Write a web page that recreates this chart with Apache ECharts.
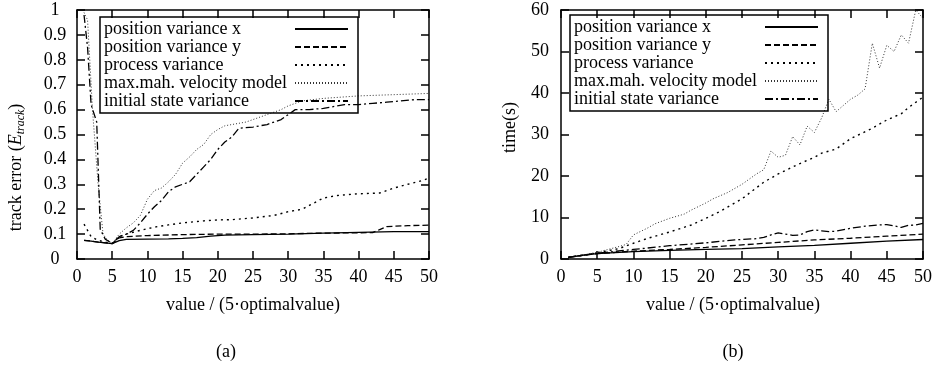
<!DOCTYPE html>
<html>
<head>
<meta charset="utf-8">
<script src="https://cdn.jsdelivr.net/npm/echarts@6/dist/echarts.min.js"></script>
<style>
  html, body { margin: 0; padding: 0; background: #fff; }
  #chart { width: 939px; height: 365px; }
</style>
</head>
<body>
<div id="chart"></div>
<script>
// Series names shared by both panels
const seriesNames = [
  'position variance x',
  'position variance y',
  'process variance',
  'max.mah. velocity model',
  'initial state variance'
];

// Panel (a): track error against the scaled parameter value
const errPosX = [[1,0.075],[2,0.072],[3,0.068],[4,0.065],[5,0.062],[6,0.074],[7,0.079],[10,0.08],[13,0.081],[15,0.083],[17,0.086],[19,0.092],[21,0.096],[25,0.098],[30,0.1],[35,0.104],[40,0.107],[45,0.11],[50,0.11]];
const errPosY = [[1,0.075],[2,0.072],[3,0.068],[4,0.065],[5,0.062],[6,0.085],[7,0.09],[10,0.094],[15,0.098],[20,0.1],[25,0.1],[30,0.101],[35,0.104],[40,0.105],[42,0.106],[43,0.118],[44,0.13],[47,0.134],[50,0.136]];
const errProcess = [[1,0.14],[2,0.09],[3,0.075],[4,0.068],[5,0.062],[6,0.09],[7,0.1],[9,0.115],[11,0.128],[13,0.137],[15,0.145],[18,0.153],[20,0.157],[22,0.158],[25,0.165],[28,0.175],[30,0.19],[32,0.2],[33,0.215],[35,0.245],[37,0.255],[40,0.262],[43,0.265],[45,0.285],[47,0.3],[49,0.315],[50,0.325]];
const errMahVel = [[1,0.99],[1.5,0.96],[2.2,0.6],[3,0.3],[3.7,0.1],[4.2,0.08],[5,0.062],[6,0.1],[7,0.125],[8,0.145],[9,0.175],[10,0.24],[11,0.275],[12,0.285],[13,0.31],[14,0.34],[15,0.385],[16,0.41],[17,0.44],[18,0.46],[19,0.5],[20,0.52],[21,0.535],[22,0.54],[24,0.55],[25,0.56],[27,0.58],[29,0.6],[30,0.615],[32,0.635],[35,0.645],[40,0.655],[45,0.66],[50,0.665]];
const errInitState = [[1,0.98],[1.5,0.85],[2,0.62],[2.8,0.55],[3.3,0.12],[4,0.08],[5,0.062],[6,0.09],[7,0.1],[8,0.115],[9,0.145],[10,0.18],[11,0.21],[12,0.235],[13,0.27],[14,0.29],[15,0.3],[16,0.31],[17,0.34],[18,0.37],[19,0.4],[20,0.44],[21,0.47],[22,0.49],[23,0.525],[25,0.53],[27,0.54],[29,0.56],[30,0.58],[31,0.6],[33,0.6],[35,0.605],[38,0.62],[40,0.62],[42,0.625],[44,0.63],[46,0.635],[48,0.64],[50,0.64]];

// Panel (b): computation time in seconds
const timePosX = [[1,0.4],[3,0.9],[5,1.3],[10,1.8],[15,2.1],[20,2.3],[25,2.5],[30,2.9],[35,3.3],[40,3.8],[45,4.3],[50,4.7]];
const timePosY = [[1,0.4],[3,0.9],[5,1.3],[10,1.9],[15,2.3],[20,2.8],[25,3.4],[30,4],[35,4.6],[40,5],[45,5.5],[50,6]];
const timeProcess = [[1,0.4],[3,0.9],[5,1.5],[8,2.5],[10,3.8],[12,5],[15,6.5],[18,8.2],[20,9.8],[22,11.5],[25,14.5],[28,18.5],[30,20.5],[33,23],[35,24.5],[36,25.5],[38,26.5],[40,29],[43,31.5],[45,33.5],[47,35],[48,36.5],[50,39]];
const timeMahVel = [[1,0.4],[3,0.9],[5,1.6],[8,3],[9,3.5],[10,5.8],[12,7.5],[13,8.5],[15,9.8],[17,10.8],[18,11.8],[20,13.5],[21,14.5],[23,16],[25,18],[27,20.5],[28,21.5],[29,26],[30,24.5],[31,25],[32,29.5],[33,27.5],[34,32],[35,30.5],[36,34],[37,38.5],[38,35.5],[39,37],[40,38.5],[41,39.5],[42,41],[43,52],[44,46],[45,51.5],[46,50],[47,54],[48,52],[49,60],[50,58]];
const timeInitState = [[1,0.4],[5,1.4],[10,2.3],[15,3.2],[20,3.9],[24,4.6],[27,4.9],[28,5.2],[29,5.8],[30,6.3],[31,6],[32,5.7],[33,5.8],[34,6.6],[35,7],[36,6.8],[37,6.6],[38,6.7],[40,7.4],[42,7.9],[44,8.2],[45,8.3],[46,8],[47,7.6],[48,8.1],[49,8.2],[50,8.6]];

const errData = [errPosX, errPosY, errProcess, errMahVel, errInitState];
const timeData = [timePosX, timePosY, timeProcess, timeMahVel, timeInitState];

const SERIF = "'Liberation Serif', 'DejaVu Serif', serif";
const INK = '#000';

// One line style per series, in the same order as seriesNames
const lineStyles = [
  { type: 'solid', width: 1.3, color: '#000' },
  { type: [6, 3], width: 1.3, color: '#000' },
  { type: [2, 4], width: 1.4, color: '#000' },
  { type: [1, 2], width: 1, color: '#333' },
  { type: [8, 3, 2, 3], width: 1.3, color: '#000' }
];

function makeSeries(dataSets, axisIndex) {
  return dataSets.map((d, i) => ({
    name: seriesNames[i],
    type: 'line',
    xAxisIndex: axisIndex,
    yAxisIndex: axisIndex,
    data: d,
    symbol: 'none',
    showSymbol: false,
    animation: false,
    lineStyle: lineStyles[i],
    itemStyle: { color: lineStyles[i].color },
    z: 2
  }));
}

function xAxes(gridIndex, namePad) {
  const common = {
    gridIndex, type: 'value', min: 0, max: 50, interval: 5,
    axisLine: { show: true, onZero: false, lineStyle: { color: INK, width: 1.5 } },
    axisTick: { show: true, inside: true, length: 8, lineStyle: { color: INK, width: 1.5 } },
    splitLine: { show: false }
  };
  return [
    Object.assign({}, common, {
      position: 'bottom',
      axisLabel: { show: true, margin: 9, color: INK, fontFamily: SERIF, fontSize: 18 },
      name: 'value / (5·optimalvalue)',
      nameLocation: 'middle',
      nameGap: 37,
      nameTextStyle: { color: INK, fontFamily: SERIF, fontSize: 18, padding: namePad }
    }),
    Object.assign({}, common, { position: 'top', axisLabel: { show: false } })
  ];
}

function yAxes(gridIndex, max, interval, label) {
  const common = {
    gridIndex, type: 'value', min: 0, max, interval,
    axisLine: { show: true, onZero: false, lineStyle: { color: INK, width: 1.5 } },
    axisTick: { show: true, inside: true, length: 8, lineStyle: { color: INK, width: 1.5 } },
    splitLine: { show: false }
  };
  return [
    Object.assign({}, common, {
      position: 'left',
      axisLabel: Object.assign({ show: true, color: INK, fontFamily: SERIF, fontSize: 18 }, label.tick),
      name: label.text,
      nameLocation: 'middle',
      nameRotate: 90,
      nameGap: label.gap,
      nameTextStyle: {
        color: INK, fontFamily: SERIF, fontSize: 18, padding: label.pad,
        rich: {
          e: { fontFamily: SERIF, fontSize: 18, fontStyle: 'italic', color: INK },
          s: { fontFamily: SERIF, fontSize: 12, fontStyle: 'italic', color: INK, padding: [9, 0, 0, 0] }
        }
      }
    }),
    Object.assign({}, common, { position: 'right', axisLabel: { show: false } })
  ];
}

function legendAt(left, top) {
  return {
    orient: 'vertical',
    left, top,
    align: 'right',
    itemWidth: 53,
    itemHeight: 17.5,
    itemGap: 0,
    padding: [3, 9, 3, 4],
    borderColor: INK,
    borderWidth: 1.5,
    borderRadius: 0,
    selectedMode: false,
    itemStyle: { opacity: 0 },
    formatter: n => '{t|' + n + '}',
    textStyle: {
      color: INK, fontFamily: SERIF, fontSize: 18,
      rich: { t: { width: 186, align: 'left', lineHeight: 17.5, fontFamily: SERIF, fontSize: 18, color: INK } }
    },
    data: seriesNames
  };
}

const chart = echarts.init(document.getElementById('chart'), null, { renderer: 'canvas' });

chart.setOption({
  backgroundColor: '#fff',
  animation: false,
  grid: [
    { left: 77, right: 510, top: 10, bottom: 106 },
    { left: 561, right: 16, top: 10, bottom: 106 }
  ],
  xAxis: [].concat(xAxes(0, [0, 0, 0, 0]), xAxes(1, [0, 18, 0, 0])),
  yAxis: [].concat(
    yAxes(0, 1, 0.1, {
      text: 'track error ({e|E}{s|track})',
      gap: 50,
      pad: [0, 66, 0, 0],
      tick: { margin: 22, align: 'center' }
    }),
    yAxes(1, 60, 10, {
      text: 'time(s)',
      gap: 42,
      pad: [0, 0, 0, 14],
      tick: { margin: 12 }
    })
  ),
  legend: [legendAt(100, 17), legendAt(570, 15)],
  series: [].concat(makeSeries(errData, 0), makeSeries(timeData, 2)),
  graphic: [
    { type: 'text', x: 226, y: 352, style: { text: '(a)', fill: INK, font: "18px 'Liberation Serif', serif", align: 'center', verticalAlign: 'middle' } },
    { type: 'text', x: 733, y: 352, style: { text: '(b)', fill: INK, font: "18px 'Liberation Serif', serif", align: 'center', verticalAlign: 'middle' } }
  ]
});
</script>
</body>
</html>
